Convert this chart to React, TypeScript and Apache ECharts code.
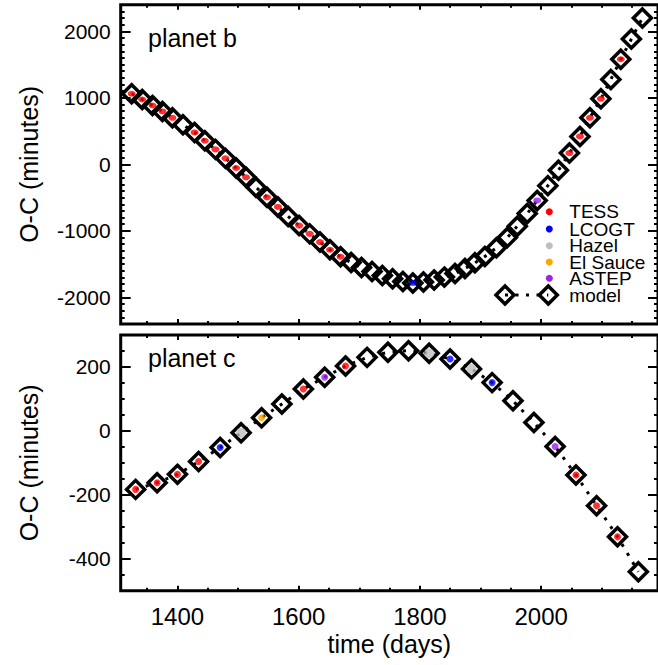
import React, { useEffect, useRef } from 'react';
import * as echarts from 'echarts';

// ---------- data ----------
// planet b: transit epochs (days), model O-C (minutes), instrument of observed point ('' = none)
const bTimes = [
  1324.6, 1342.0, 1359.0, 1375.4, 1391.8, 1409.2, 1428.4, 1445.3, 1462.9, 1479.3,
  1496.9, 1513.3, 1529.7, 1547.8, 1565.8, 1582.7, 1600.8, 1618.3, 1635.2, 1651.7,
  1669.2, 1686.6, 1703.7, 1721.1, 1738.1, 1755.0, 1772.0, 1788.4, 1805.9, 1823.5,
  1840.4, 1858.0, 1874.4, 1890.8, 1907.2, 1926.2, 1944.3, 1960.7, 1977.1, 1993.5,
  2011.1, 2028.6, 2046.7, 2064.1, 2080.5, 2098.6, 2115.0, 2131.4, 2148.9, 2167.0,
];
const bOC = [
  1061, 975, 885, 795, 700, 595, 480, 355, 225, 90,
  -55, -195, -345, -495, -640, -783, -920, -1045, -1168, -1284,
  -1389, -1475, -1550, -1610, -1670, -1720, -1760, -1784, -1770, -1740,
  -1695, -1640, -1565, -1480, -1385, -1255, -1100, -930, -740, -543,
  -320, -90, 170, 420, 700, 985, 1275, 1580, 1885, 2200,
];
const bInst = [
  'TESS', 'TESS', 'TESS', 'TESS', 'TESS', '', 'TESS', 'TESS', 'TESS', 'TESS',
  'TESS', 'TESS', '', 'TESS', 'TESS', '', 'TESS', 'TESS', 'TESS', 'TESS',
  'TESS', '', '', '', '', '', '', 'LCOGT', '', '',
  '', '', '', '', '', '', '', '', '', 'ASTEP',
  '', '', 'TESS', 'TESS', 'TESS', 'TESS', '', 'TESS', '', '',
];

// planet c
const cTimes = [
  1331.1, 1366.6, 1400.1, 1435.0, 1470.6, 1505.1, 1538.9, 1572.4, 1607.8, 1643.0,
  1677.4, 1712.9, 1747.3, 1781.3, 1815.3, 1849.8, 1885.2, 1919.2, 1953.6, 1988.1,
  2023.1, 2057.5, 2091.5, 2126.0, 2160.4,
];
const cOC = [
  -183, -162, -136, -96, -52, -6, 41, 84, 131, 168,
  203, 230, 246, 251, 243, 225, 194, 151, 94, 26,
  -49, -138, -234, -331, -441,
];
const cInst = [
  'TESS', 'TESS', 'TESS', 'TESS', 'LCOGT', 'Hazel', 'El Sauce', '', 'TESS', 'ASTEP',
  'TESS', '', '', '', 'Hazel', 'LCOGT', 'Hazel', 'LCOGT', '', '',
  'ASTEP', 'TESS', 'TESS', 'TESS', '',
];

const instruments = ['TESS', 'LCOGT', 'Hazel', 'El Sauce', 'ASTEP'];
const instColors = ['#ff0000', '#0000ff', '#bebebe', '#ffa500', '#a020f0'];

// axis ticks
const xMajorTicks = [1400, 1600, 1800, 2000];
const bYMajorTicks = [-2000, -1000, 0, 1000, 2000];
const cYMajorTicks = [-400, -200, 0, 200];
const X_MIN = 1306.5;
const X_MAX = 2192.8;
const B_Y = [-2400, 2400];
const C_Y = [-500, 300];

// ---------- helpers ----------
const FONT = '"Liberation Sans", Arial, Helvetica, sans-serif';

function minorTicks(from: number, to: number, step: number, majors: number[]) {
  const out: number[] = [];
  for (let v = from; v <= to + 1e-9; v += step) {
    if (!majors.includes(v)) out.push(v);
  }
  return out;
}

const xMinor = minorTicks(1350, 2150, 50, xMajorTicks);
const bYMinor = minorTicks(-2300, 2300, 100, bYMajorTicks);
const cYMinor = minorTicks(-450, 250, 50, cYMajorTicks);

function axis(
  dim: 'x' | 'y',
  gridIndex: number,
  position: string,
  min: number,
  max: number,
  ticks: number[],
  len: number,
  labels: boolean,
  extra: any = {}
) {
  return {
    type: 'value',
    gridIndex,
    position,
    min,
    max,
    axisLine: { show: false, onZero: false },
    splitLine: { show: false },
    axisTick: {
      show: true,
      inside: true,
      length: len,
      customValues: ticks,
      lineStyle: { color: '#000', width: 2 },
    },
    axisLabel: labels
      ? {
          show: true,
          customValues: ticks,
          color: '#000',
          fontFamily: FONT,
          fontSize: dim === 'x' ? 24 : 21,
          margin: dim === 'x' ? 14 : 10,
          formatter: (v: number) => String(v),
        }
      : { show: false },
    ...extra,
  };
}

function buildSeries(
  times: number[],
  oc: number[],
  inst: string[],
  axisIndex: number,
  dotSize: (name: string) => number | number[]
) {
  const list: any[] = [
    {
      type: 'line',
      name: 'model',
      xAxisIndex: axisIndex,
      yAxisIndex: axisIndex,
      data: times.map((t, i) => [t, oc[i]]),
      symbol: 'diamond',
      symbolSize: 18,
      showSymbol: true,
      showAllSymbol: true,
      z: 2,
      lineStyle: { color: '#000', width: 3, type: [3, 7.5] },
      itemStyle: { color: 'rgba(0,0,0,0)', borderColor: '#000', borderWidth: 3.5 },
      emphasis: { disabled: true },
    },
  ];
  instruments.forEach((name, k) => {
    const data: number[][] = [];
    times.forEach((t, i) => {
      if (inst[i] === name) data.push([t, oc[i]]);
    });
    list.push({
      type: 'scatter',
      name,
      xAxisIndex: axisIndex,
      yAxisIndex: axisIndex,
      data,
      symbol: 'circle',
      symbolSize: dotSize(name),
      z: 3,
      itemStyle: { color: instColors[k] },
      emphasis: { disabled: true },
    });
  });
  return list;
}

export default function App() {
  const ref = useRef<HTMLDivElement>(null);

  useEffect(() => {
    if (!ref.current) return;
    const chart = echarts.init(ref.current, undefined, { renderer: 'svg' });

    const gridLeft = 120.7;
    const gridWidth = 540;

    const legendX = 549.3;
    const legendTextX = 569.3;
    const legendYs = [211.7, 229, 245.7, 262, 278.3];
    const modelY = 295;

    const diamond = (cx: number, cy: number) => ({
      type: 'polygon',
      shape: {
        points: [
          [cx, cy - 9],
          [cx + 9, cy],
          [cx, cy + 9],
          [cx - 9, cy],
        ],
      },
      style: { fill: 'none', stroke: '#000', lineWidth: 3.5 },
      z: 20,
    });

    const textStyle = (text: string, size: number, lh?: number) => ({
      text,
      fontSize: size,
      fontFamily: FONT,
      fill: '#000',
      verticalAlign: 'middle',
      align: 'left',
      ...(lh ? { lineHeight: lh } : {}),
    });

    const graphics: any[] = [
      { type: 'text', x: 148, y: 37.5, style: textStyle('planet b', 25), z: 20 },
      { type: 'text', x: 148, y: 357.5, style: textStyle('planet c', 25), z: 20 },
    ];
    instruments.forEach((name, k) => {
      graphics.push({
        type: 'circle',
        shape: { cx: legendX, cy: legendYs[k], r: 3.5 },
        style: { fill: instColors[k] },
        z: 20,
      });
      graphics.push({
        type: 'text',
        x: legendTextX,
        y: legendYs[k],
        style: textStyle(name, 19, 15),
        z: 20,
      });
    });
    graphics.push({
      type: 'line',
      shape: { x1: 505, y1: modelY, x2: 548.3, y2: modelY },
      style: { stroke: '#000', lineWidth: 3, lineDash: [3, 7.5] },
      z: 19,
    });
    graphics.push(diamond(505, modelY));
    graphics.push(diamond(548.3, modelY));
    graphics.push({
      type: 'text',
      x: legendTextX,
      y: modelY,
      style: textStyle('model', 19, 15),
      z: 20,
    });

    const gridCommon = {
      left: gridLeft,
      width: gridWidth,
      show: true,
      borderColor: '#000',
      borderWidth: 3,
      backgroundColor: 'transparent',
      containLabel: false,
    };

    const option: any = {
      animation: false,
      backgroundColor: '#fff',
      grid: [
        { ...gridCommon, top: 4.7, height: 319.3 },
        { ...gridCommon, top: 335, height: 255.7 },
      ],
      xAxis: [
        // grid 0
        axis('x', 0, 'bottom', X_MIN, X_MAX, xMajorTicks, 5, false),
        axis('x', 0, 'bottom', X_MIN, X_MAX, xMinor, 3, false),
        axis('x', 0, 'top', X_MIN, X_MAX, xMajorTicks, 5, false),
        axis('x', 0, 'top', X_MIN, X_MAX, xMinor, 3, false),
        // grid 1
        axis('x', 1, 'bottom', X_MIN, X_MAX, xMajorTicks, 5, true, {
          name: 'time (days)',
          nameLocation: 'middle',
          nameGap: 41,
          nameTextStyle: { fontSize: 25, fontFamily: FONT, color: '#000' },
        }),
        axis('x', 1, 'bottom', X_MIN, X_MAX, xMinor, 3, false),
        axis('x', 1, 'top', X_MIN, X_MAX, xMajorTicks, 5, false),
        axis('x', 1, 'top', X_MIN, X_MAX, xMinor, 3, false),
      ],
      yAxis: [
        axis('y', 0, 'left', B_Y[0], B_Y[1], bYMajorTicks, 10, true, {
          name: 'O-C (minutes)',
          nameLocation: 'middle',
          nameGap: 79,
          nameTextStyle: { fontSize: 25, fontFamily: FONT, color: '#000' },
        }),
        axis('y', 0, 'left', B_Y[0], B_Y[1], bYMinor, 4, false),
        axis('y', 0, 'right', B_Y[0], B_Y[1], bYMajorTicks, 10, false),
        axis('y', 0, 'right', B_Y[0], B_Y[1], bYMinor, 4, false),
        axis('y', 1, 'left', C_Y[0], C_Y[1], cYMajorTicks, 10, true, {
          name: 'O-C (minutes)',
          nameLocation: 'middle',
          nameGap: 79,
          nameTextStyle: { fontSize: 25, fontFamily: FONT, color: '#000' },
        }),
        axis('y', 1, 'left', C_Y[0], C_Y[1], cYMinor, 4, false),
        axis('y', 1, 'right', C_Y[0], C_Y[1], cYMajorTicks, 10, false),
        axis('y', 1, 'right', C_Y[0], C_Y[1], cYMinor, 4, false),
      ],
      series: [
        ...buildSeries(bTimes, bOC, bInst, 0, () => [8, 6]),
        ...buildSeries(cTimes, cOC, cInst, 4, (n) => (n === 'Hazel' ? 10 : 7)),
      ],
      graphic: graphics,
    };

    chart.setOption(option);
    return () => chart.dispose();
  }, []);

  return (
    <div
      ref={ref}
      style={{ position: 'absolute', left: 0, top: 0, width: 658, height: 665, background: '#fff' }}
    />
  );
}
